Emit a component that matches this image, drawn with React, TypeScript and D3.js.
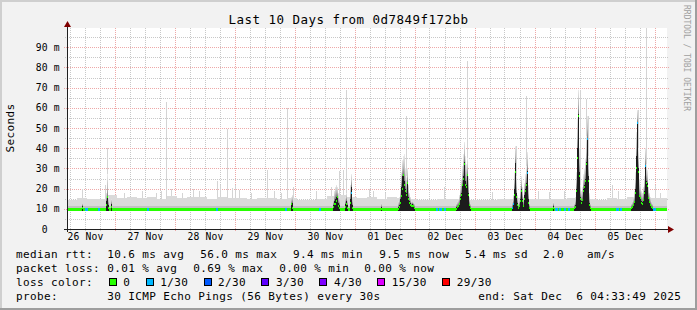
import React from 'react';
import * as d3 from 'd3';

// ---------- data ----------
const W = 697;
const H = 310;
const START = new Date(2025, 10, 26, 5, 0, 0); // left edge of plot
const STEP_SEC = 1440; // one RRD step per pixel column
const N_STEPS = 600;

const TITLE = 'Last 10 Days from 0d7849f172bb';
const Y_LABEL = 'Seconds';
const WATERMARK = 'RRDTOOL / TOBI OETIKER';
const yTicks = [0, 10, 20, 30, 40, 50, 60, 70, 80, 90];
const Y_MAX_MS = 100;

// baseline smoke (ms)
const BASE_MEDIAN = 9.5;
const INNER_BAND = 11.2;
const BAND_STEP = 10; // steps per bandTop value
const bandTop = [
  14.5, 15.5, 15, 15, 17, 15.5, 16, 15.5, 16, 15,
  16.5, 15.5, 16, 16, 15, 16, 15.5, 15.5, 15, 15.5,
  15.5, 15, 15.5, 14.5, 14.5, 15, 16.5, 17, 16, 15.5,
  16, 15, 16, 15.5, 15, 14.5, 14.5, 15, 15, 15,
  14.5, 14.5, 14.5, 15, 15, 15.5, 15, 15, 15, 15,
  15.5, 16, 15, 14.5, 15.5, 15, 16, 16.5, 15.5, 15.5,
];

// latency episodes: step index, dense smoke top, smoke fade top, median (ms), lost pings
const epIdx = [
  15, 39, 40, 41, 44, 224, 225,
  266, 267, 268, 269, 270, 271, 272, 278, 279, 280, 283, 284, 285, 314,
  331, 332, 333, 334, 335, 336, 337, 338, 339, 340, 341, 342, 343, 344, 345, 346, 347,
  389, 390, 391, 392, 393, 394, 395, 396, 397, 398, 399, 400, 401, 402, 403,
  445, 446, 447, 448, 449, 450, 451, 452, 453, 454, 455, 456, 457, 458, 459, 460, 461, 462, 486,
  507, 508, 509, 510, 511, 512, 513, 514, 515, 516, 517, 518, 519, 520, 521, 522, 523,
  564, 565, 566, 567, 568, 569, 570, 571, 572, 573, 574, 575, 576, 577, 578, 579, 580, 581, 582, 583, 584, 585,
];
const epHi = [
  11.5, 14, 16, 12, 12.3, 12.5, 13,
  12, 14, 15, 16, 16, 13, 12, 12.5, 14, 12, 15, 21, 12, 11,
  11, 12, 15, 21, 26, 27, 24, 20, 18, 23.5, 16, 14, 13, 12, 12.5, 12, 11,
  11, 11.5, 12, 13, 16, 18, 22, 26, 33, 24, 22, 26.6, 18, 12.5, 11,
  11, 13, 20, 32.7, 18, 13, 11, 12, 15, 19.8, 15, 12, 17, 20, 23, 28.7, 15, 11, 11.5,
  11, 12, 20, 40, 57, 28, 16, 14, 15, 20, 22, 25, 33, 45, 26, 13, 11,
  11, 11.5, 12.5, 14, 20, 36, 52.5, 30, 17, 16, 14, 13.5, 15, 19, 31.5, 24, 22.7, 16, 14, 12.5, 11.5, 11,
];
const epTop = [
  13, 18, 27, 16, 15, 16, 17,
  15, 19, 21, 22, 21, 18, 16, 16, 18, 15, 22, 27, 16, 13,
  14, 16, 20, 28, 34, 36, 37, 30, 26, 30, 22, 18, 16, 14, 14, 13.5, 13,
  13, 14, 15, 17, 21, 25, 31, 37, 43, 36, 32, 35, 26, 16, 13,
  14, 17, 28, 41, 26, 17, 13, 15, 21, 26, 21, 16, 23, 27, 31, 38, 22, 13, 13.5,
  13, 16, 28, 55, 69, 40, 22, 19, 21, 27, 30, 35, 46, 56, 36, 18, 13,
  13, 14, 16, 19, 28, 48, 59, 40, 25, 22, 19, 18, 21, 26, 40, 32, 29, 21, 18, 16, 14, 13,
];
const epMed = [
  10.2, 12, 15.8, 10.2, 11, 12.3, 10.5,
  11, 12.4, 12.5, 14, 15.8, 11.5, 10.5, 11, 12.5, 10.5, 13, 17.8, 10.5, 10,
  10, 11, 13, 16.5, 20, 26.7, 22, 19, 17, 22.8, 15, 13, 12, 11.6, 11.5, 11.5, 10.5,
  10, 11, 11.5, 12.5, 15, 17, 21.6, 25, 32.4, 22, 21, 26.6, 17, 12, 10.5,
  10.5, 12.4, 17, 28, 16, 12, 10.5, 11.5, 14, 19, 14, 11.5, 15, 19, 22, 27.5, 13, 10.5, 10.5,
  10.5, 11, 19, 35, 56, 26, 15, 13, 14.5, 19, 21, 24, 32, 44.5, 24, 12, 10.5,
  10.5, 11, 12, 13.5, 18, 30, 52.3, 28, 16.5, 15.5, 13, 12.5, 14.5, 18, 31, 23, 21.5, 15.5, 13.5, 12, 11, 10.5,
];
const epLoss = [
  0, 0, 0, 0, 0, 0, 0,
  0, 0, 0, 0, 0, 0, 0, 0, 0, 0, 0, 1, 0, 0,
  0, 0, 0, 0, 0, 0, 0, 0, 0, 0, 0, 0, 0, 0, 0, 0, 0,
  0, 0, 0, 0, 0, 0, 0, 0, 0, 0, 0, 0, 0, 0, 0,
  1, 1, 0, 0, 0, 0, 0, 0, 0, 0, 0, 0, 0, 0, 0, 1, 0, 0, 0,
  0, 0, 0, 0, 0, 0, 0, 0, 0, 0, 0, 0, 0, 1, 0, 0, 0,
  0, 0, 0, 0, 0, 0, 1, 0, 0, 0, 0, 0, 0, 0, 1, 0, 0, 0, 0, 0, 0, 0,
];

// single slow pings (max of the 30), step index and ms
const outIdx = [
  15, 38, 40, 57, 75, 89, 94, 99, 104, 115, 126, 132, 150, 153, 160, 165, 168, 172, 184, 200,
  207, 214, 220, 226, 249, 264, 272, 276, 279, 302, 306, 318, 339, 377, 398, 400, 425, 449,
  459, 471, 482, 497, 513, 519, 521, 545, 551, 571, 579, 588, 593,
];
const outMs = [
  20, 22, 40, 18, 19, 17.8, 19, 63, 20, 18, 20, 19, 24, 22, 49.5, 20.3, 22, 19.5, 18, 29,
  19, 18, 60, 21, 19, 21, 28.6, 29.3, 69, 20, 19, 18, 56, 20.9, 19, 83, 18.5, 41,
  65.7, 19, 18.5, 19, 69, 64.5, 56, 22, 19, 59, 100, 22, 18,
];

// baseline steps with 1/30 loss
const lossIdx = [18, 19, 31, 80, 149, 218, 252, 369, 372, 373, 377, 488, 489, 492, 497, 501, 549, 550, 553, 586, 587];
const lossCount = [1, 1, 1, 1, 1, 1, 1, 1, 1, 1, 1, 1, 1, 1, 1, 1, 1, 1, 1, 1, 1];

const lossThresholds = [0, 1, 2, 3, 4, 15, 29];
const lossLabels = ['0', '1/30', '2/30', '3/30', '4/30', '15/30', '29/30'];
const lossColors = ['#26ff00', '#00b8ff', '#0059ff', '#5e00ff', '#7e00ff', '#dd00ff', '#ff0000'];

const rttRow = ['median rtt:', '10.6 ms avg', '56.0 ms max', '9.4 ms min', '9.5 ms now', '5.4 ms sd', '2.0', 'am/s'];
const lossRow = ['packet loss:', '0.01 % avg', '0.69 % max', '0.00 % min', '0.00 % now'];
const probeRow = ['probe:', '30 ICMP Echo Pings (56 Bytes) every 30s', 'end: Sat Dec  6 04:33:49 2025'];
const LOSS_COLOR_LABEL = 'loss color:';

// ---------- layout ----------
const PL = 67, PR = 667, PT = 28, PB = 229;
const MONO = '"DejaVu Sans Mono", "Liberation Mono", monospace';
const rttX = [16, 107.3, 200.3, 293, 379.3, 465, 543, 587];
const lossX = [16, 107.3, 193.3, 279.3, 364.3];
const probeX = [16, 107.3, 478.3];
const ROW_Y = [257.5, 271.5, 285.5, 299.5];

if (typeof document !== 'undefined') {
  document.body.style.margin = '0';
}

const tOf = (i: number) => new Date(START.getTime() + i * STEP_SEC * 1000);
const colorFor = (n: number) => {
  let c = lossColors[0];
  lossThresholds.forEach((t, k) => {
    if (n >= t) c = lossColors[k];
  });
  return c;
};

export default function App() {
  const end = tOf(N_STEPS);
  const x = d3.scaleTime().domain([START, end]).range([PL, PR]);
  const y = d3.scaleLinear().domain([0, Y_MAX_MS]).range([PB, PT - 1]);

  const minorX = d3.timeHour.every(6)!.range(START, end).filter((d) => d.getHours() !== 0);
  const majorX = d3.timeDay.range(START, end);
  const noonLabels = d3.timeDay
    .range(d3.timeDay.floor(START), end)
    .map((d) => new Date(d.getFullYear(), d.getMonth(), d.getDate(), 12))
    .filter((d) => d >= START && d <= end);
  const fmt = d3.timeFormat('%d %b');
  const minorY = d3.range(5, Y_MAX_MS, 10);

  const colW = Math.max(1, Math.round(x(tOf(1)) - x(tOf(0))));
  const epSet = new Set(epIdx);

  // legend layout for loss colours
  const legendItems: { bx: number; tx: number }[] = [];
  let cx = 108.7;
  lossLabels.forEach((l) => {
    const tx = cx + 14.6;
    legendItems.push({ bx: cx, tx });
    cx = tx + l.length * 7 + 15.3;
  });

  const textStyle: React.CSSProperties = { whiteSpace: 'pre' };

  return (
    <div style={{ position: 'absolute', left: 0, top: 0, width: W, height: H }}>
      <svg width={W} height={H} viewBox={`0 0 ${W} ${H}`} style={{ display: 'block' }} shapeRendering="crispEdges">
        <defs>
          <clipPath id="plotClip">
            <rect x={PL} y={PT} width={PR - PL} height={PB - PT} />
          </clipPath>
          <linearGradient id="smokeFade" x1="0" y1="1" x2="0" y2="0">
            <stop offset="0" stopColor="#7a7a7a" />
            <stop offset="0.4" stopColor="#bababa" />
            <stop offset="1" stopColor="#ececec" />
          </linearGradient>
        </defs>

        {/* background and frame */}
        <rect x={0} y={0} width={W} height={H} fill="#f2f2f2" />
        <rect x={0} y={0} width={W} height={2} fill="#cfcfcf" />
        <rect x={0} y={0} width={2} height={H} fill="#cfcfcf" />
        <rect x={0} y={H - 2} width={W} height={2} fill="#9e9e9e" />
        <rect x={W - 2} y={0} width={2} height={H} fill="#9e9e9e" />

        {/* canvas */}
        <rect x={PL} y={PT} width={PR - PL} height={PB - PT} fill="#ffffff" />

        {/* grid */}
        <g strokeDasharray="1,1" strokeWidth={1}>
          {minorX.map((d, i) => (
            <line key={'mx' + i} x1={Math.round(x(d)) + 0.5} x2={Math.round(x(d)) + 0.5} y1={PT} y2={PB + 2} stroke="#c8c8c8" />
          ))}
          {minorY.map((v) => (
            <line key={'my' + v} x1={PL - 2} x2={PR + 2} y1={Math.round(y(v)) + 0.5} y2={Math.round(y(v)) + 0.5} stroke="#c8c8c8" />
          ))}
          {majorX.map((d, i) => (
            <line key={'Mx' + i} x1={Math.round(x(d)) + 0.5} x2={Math.round(x(d)) + 0.5} y1={PT} y2={PB + 3} stroke="#eea8a8" />
          ))}
          {yTicks.filter((v) => v > 0).map((v) => (
            <line key={'My' + v} x1={PL - 3} x2={PR + 3} y1={Math.round(y(v)) + 0.5} y2={Math.round(y(v)) + 0.5} stroke="#eea8a8" />
          ))}
        </g>

        {/* smoke and median */}
        <g clipPath="url(#plotClip)">
          {bandTop.map((v, i) => {
            const x0 = x(tOf(i * BAND_STEP));
            const x1 = x(tOf((i + 1) * BAND_STEP));
            return <rect key={'bt' + i} x={x0} y={y(v)} width={x1 - x0} height={y(BASE_MEDIAN) - y(v)} fill="#dadada" />;
          })}
          {bandTop.map((_, i) => {
            const x0 = x(tOf(i * BAND_STEP));
            const x1 = x(tOf((i + 1) * BAND_STEP));
            return <rect key={'bi' + i} x={x0} y={y(INNER_BAND)} width={x1 - x0} height={y(BASE_MEDIAN) - y(INNER_BAND)} fill="#c2c2c2" />;
          })}
          {outIdx.map((idx, i) => {
            const base = bandTop[Math.floor(idx / BAND_STEP)];
            const xx = Math.round(x(tOf(idx)));
            return <rect key={'o' + i} x={xx} y={y(outMs[i])} width={1} height={y(base) - y(outMs[i])} fill="#d4d4d4" />;
          })}
          {/* baseline median line */}
          <rect x={PL} y={y(BASE_MEDIAN) - 1.5} width={PR - PL} height={3} fill={lossColors[0]} />
          {lossIdx.map((idx, i) =>
            epSet.has(idx) ? null : (
              <rect key={'l' + i} x={x(tOf(idx))} y={y(BASE_MEDIAN) - 1.5} width={colW + 1} height={3} fill={colorFor(lossCount[i])} />
            )
          )}
          {/* episodes */}
          {epIdx.map((idx, i) => {
            const x0 = Math.round(x(tOf(idx)));
            return (
              <g key={'e' + i}>
                <rect x={x0} y={y(epTop[i])} width={colW} height={Math.max(0, y(epHi[i]) - y(epTop[i]))} fill="url(#smokeFade)" />
                <rect x={x0} y={y(epHi[i])} width={colW} height={y(BASE_MEDIAN - 0.8) - y(epHi[i])} fill="#1c1c1c" />
              </g>
            );
          })}
          {epIdx.map((idx, i) => {
            const x0 = Math.round(x(tOf(idx)));
            return <rect key={'em' + i} x={x0} y={y(epMed[i]) - 1} width={colW} height={2} fill={colorFor(epLoss[i])} />;
          })}
        </g>

        {/* axes */}
        <line x1={PL - 3} x2={PR + 3} y1={PB + 0.5} y2={PB + 0.5} stroke="#202020" />
        <line x1={PL + 0.5} x2={PL + 0.5} y1={PB + 3} y2={PT - 4} stroke="#202020" />
        <path d={`M${PL - 3},${PT - 1} L${PL + 4},${PT - 1} L${PL + 0.5},${PT - 7} Z`} fill="#800000" shapeRendering="auto" />
        <path d={`M${PR + 1},${PB - 3} L${PR + 1},${PB + 4} L${PR + 7},${PB + 0.5} Z`} fill="#800000" shapeRendering="auto" />

        {/* axis labels */}
        <g fontFamily={MONO} fontSize={9.7} fill="#000" style={{ letterSpacing: '0.16px' }}>
          {yTicks.map((v) => (
            <text key={'yl' + v} x={35.7} y={y(v) + 3.6} style={textStyle}>
              {v === 0 ? ' 0' : `${v} m`}
            </text>
          ))}
          {noonLabels.map((d, i) => (
            <text key={'xl' + i} x={x(d) + 1} y={240} textAnchor="middle">
              {fmt(d)}
            </text>
          ))}
        </g>

        {/* title, unit, watermark */}
        <text x={W / 2} y={24} textAnchor="middle" fontFamily={MONO} fontSize={12.5} style={{ letterSpacing: '0.47px' }}>
          {TITLE}
        </text>
        <text transform={`translate(14,128) rotate(-90)`} textAnchor="middle" fontFamily={MONO} fontSize={11} style={{ letterSpacing: '0.38px' }}>
          {Y_LABEL}
        </text>
        <text transform={`translate(684,5) rotate(90)`} fontFamily={MONO} fontSize={8} fill="#a0a0a0">
          {WATERMARK}
        </text>

        {/* legend */}
        <g fontFamily={MONO} fontSize={11} fill="#000" style={{ letterSpacing: '0.38px' }}>
          {rttRow.map((s, i) => (
            <text key={'r' + i} x={rttX[i]} y={ROW_Y[0]} style={textStyle}>{s}</text>
          ))}
          {lossRow.map((s, i) => (
            <text key={'p' + i} x={lossX[i]} y={ROW_Y[1]} style={textStyle}>{s}</text>
          ))}
          <text x={16} y={ROW_Y[2]} style={textStyle}>{LOSS_COLOR_LABEL}</text>
          {legendItems.map((it, i) => (
            <g key={'lg' + i}>
              <rect x={Math.round(it.bx) + 0.5} y={278.5} width={7} height={7} fill={lossColors[i]} stroke="#000" strokeWidth={1} />
              <text x={it.tx} y={ROW_Y[2]} style={textStyle}>{lossLabels[i]}</text>
            </g>
          ))}
          {probeRow.map((s, i) => (
            <text key={'pr' + i} x={probeX[i]} y={ROW_Y[3]} style={textStyle}>{s}</text>
          ))}
        </g>
      </svg>
    </div>
  );
}
